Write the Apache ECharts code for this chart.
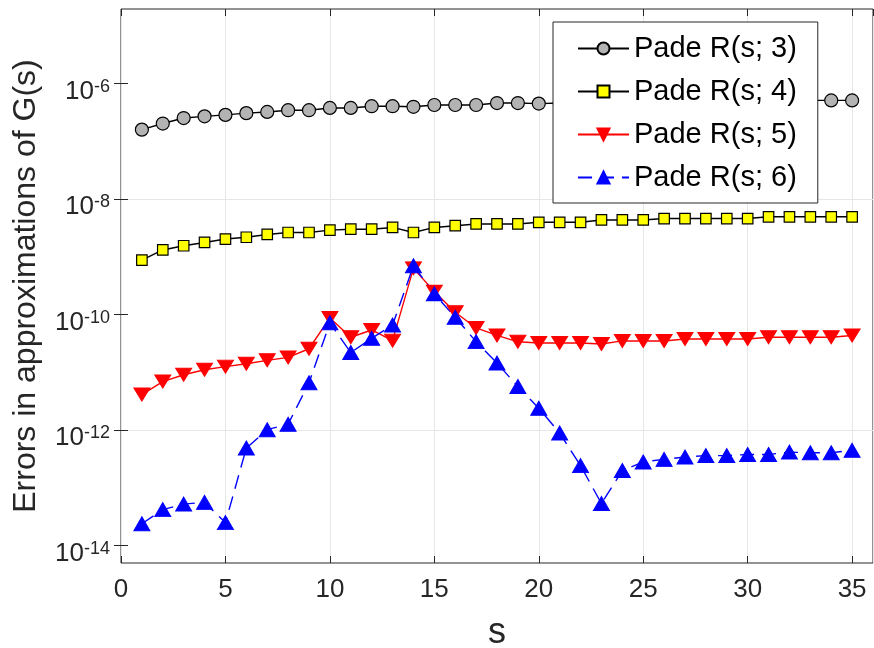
<!DOCTYPE html>
<html>
<head>
<meta charset="utf-8">
<script src="https://cdn.jsdelivr.net/npm/echarts@6/dist/echarts.min.js"></script>
<style>
html,body{margin:0;padding:0;background:#fff;}
#chart{width:874px;height:648px;}
</style>
</head>
<body>
<div id="chart"></div>
<script>
// ---- data ----
var sValues = [1,2,3,4,5,6,7,8,9,10,11,12,13,14,15,16,17,18,19,20,21,22,23,24,25,26,27,28,29,30,31,32,33,34,35];
var seriesNames = ['Pade R(s; 3)', 'Pade R(s; 4)', 'Pade R(s; 5)', 'Pade R(s; 6)'];
var errR3 = [1.60e-7,2.04e-7,2.54e-7,2.72e-7,2.88e-7,3.09e-7,3.24e-7,3.47e-7,3.47e-7,3.80e-7,
             3.80e-7,4.07e-7,4.07e-7,3.98e-7,4.27e-7,4.27e-7,4.27e-7,4.62e-7,4.62e-7,4.52e-7,
             4.62e-7,4.68e-7,4.79e-7,4.79e-7,4.90e-7,4.90e-7,4.90e-7,5.01e-7,5.01e-7,5.01e-7,
             5.01e-7,5.13e-7,5.13e-7,5.13e-7,5.13e-7];
var errR4 = [8.81e-10,1.32e-9,1.56e-9,1.78e-9,2.04e-9,2.19e-9,2.45e-9,2.65e-9,2.65e-9,2.91e-9,
             3.02e-9,3.02e-9,3.24e-9,2.65e-9,3.24e-9,3.47e-9,3.72e-9,3.72e-9,3.72e-9,3.98e-9,
             3.98e-9,3.98e-9,4.37e-9,4.37e-9,4.37e-9,4.62e-9,4.62e-9,4.62e-9,4.62e-9,4.62e-9,
             4.95e-9,4.95e-9,4.95e-9,4.95e-9,4.95e-9];
var errR5 = [4.14e-12,6.95e-12,9.12e-12,1.11e-11,1.26e-11,1.41e-11,1.62e-11,1.82e-11,2.57e-11,8.77e-11,
             4.07e-11,5.43e-11,3.55e-11,6.34e-10,2.51e-10,1.10e-10,5.89e-11,4.37e-11,3.39e-11,3.24e-11,
             3.24e-11,3.24e-11,3.11e-11,3.51e-11,3.51e-11,3.51e-11,3.80e-11,3.80e-11,3.80e-11,3.80e-11,
             4.07e-11,4.07e-11,4.07e-11,4.07e-11,4.37e-11];
var errR6 = [2.40e-14,4.21e-14,5.25e-14,5.62e-14,2.51e-14,4.90e-13,1.02e-12,1.27e-12,6.61e-12,7.24e-11,
             2.21e-11,3.89e-11,6.61e-11,7.03e-10,2.29e-10,9.02e-11,3.41e-11,1.45e-11,5.69e-12,2.40e-12,
             8.91e-13,2.43e-13,5.37e-14,2.00e-13,2.82e-13,3.12e-13,3.43e-13,3.63e-13,3.63e-13,3.80e-13,
             3.80e-13,4.17e-13,4.07e-13,4.07e-13,4.47e-13];
var xTicks = [0,5,10,15,20,25,30,35];
var yTickValues = [1e-14,1e-12,1e-10,1e-8,1e-6];
var xLabel = 's';
var yLabel = 'Errors in approximations of G(s)';

// ---- chart ----
var FONT = 'Liberation Sans, Arial, Helvetica, sans-serif';
var AX = '#262626';
var GRIDC = '#e6e6e6';
function pairs(vals){ return sValues.map(function(s,i){ return [s, vals[i]]; }); }
var yMin = Math.pow(10, -14.3), yMax = Math.pow(10, -4.707);

function yFmt(v){
  var e = Math.log10(v); var r = Math.round(e);
  if (Math.abs(e - r) > 1e-6 || r % 2 !== 0) return '';
  return '{b|10}{s|' + r + '}';
}

var chart = echarts.init(document.getElementById('chart'), null, {renderer:'canvas'});
chart.setOption({
  animation:false,
  backgroundColor:'#fff',
  textStyle:{fontFamily:FONT},
  grid:{left:121, right:1, top:9, bottom:85, show:true, borderColor:AX, borderWidth:1, backgroundColor:'transparent', outerBoundsMode:'none', containLabel:false},
  xAxis:[{
    type:'value', min:0, max:36, interval:5, position:'bottom',
    axisLine:{show:false},
    axisTick:{show:true, inside:true, length:7, lineStyle:{color:AX}},
    axisLabel:{fontSize:26, color:AX, margin:14, fontFamily:FONT, showMaxLabel:false,
      formatter:function(v){ return xTicks.indexOf(v) >= 0 ? String(v) : ''; }},
    splitLine:{show:true, lineStyle:{color:GRIDC, width:1}},
    name:xLabel, nameLocation:'middle', nameGap:52,
    nameTextStyle:{fontSize:36, color:AX, fontFamily:FONT}
  },{
    type:'value', min:0, max:36, interval:5, position:'top',
    axisLine:{show:false},
    axisTick:{show:true, inside:true, length:7, lineStyle:{color:AX}},
    axisLabel:{show:false}, splitLine:{show:false}
  }],
  yAxis:[{
    type:'log', logBase:10, min:yMin, max:yMax, position:'left',
    axisLine:{show:false},
    axisTick:{show:true, inside:true, length:7, lineStyle:{color:AX}, customValues:yTickValues},
    axisLabel:{margin:11, color:AX, fontFamily:FONT, formatter:yFmt,
      rich:{
        b:{fontSize:26, color:AX, fontFamily:FONT, lineHeight:30, padding:[10,0,0,0], verticalAlign:'top'},
        s:{fontSize:18, color:AX, fontFamily:FONT, lineHeight:18, padding:[9,0,0,0], verticalAlign:'top'}
      }},
    splitLine:{show:true, lineStyle:{color:['rgba(0,0,0,0)', GRIDC], width:1}},
    name:yLabel, nameLocation:'middle', nameGap:79,
    nameTextStyle:{fontSize:32, color:AX, fontFamily:FONT}
  },{
    type:'log', logBase:10, min:yMin, max:yMax, position:'right',
    axisLine:{show:false},
    axisTick:{show:true, inside:true, length:7, lineStyle:{color:AX}, customValues:yTickValues},
    axisLabel:{show:false}, splitLine:{show:false}
  }],
  legend:{
    orient:'vertical', left:553, top:22, padding:[12,21,11,24],
    itemWidth:51, itemHeight:15, itemGap:14,
    backgroundColor:'#fff', borderColor:AX, borderWidth:1, borderRadius:0,
    textStyle:{fontSize:29, color:'#000', fontFamily:FONT},
    data:seriesNames
  },
  series:[{
    name:seriesNames[0], type:'line', data:pairs(errR3),
    symbol:'circle', symbolSize:13,
    lineStyle:{color:'#000', width:1.4},
    itemStyle:{color:'#b3b3b3', borderColor:'#000', borderWidth:1.2},
    emphasis:{disabled:true}
  },{
    name:seriesNames[1], type:'line', data:pairs(errR4),
    symbol:'rect', symbolSize:10.5,
    lineStyle:{color:'#000', width:1.4},
    itemStyle:{color:'#ffff00', borderColor:'#000', borderWidth:1.2},
    emphasis:{disabled:true}
  },{
    name:seriesNames[2], type:'line', data:pairs(errR5),
    symbol:'triangle', symbolRotate:180, symbolSize:[16,13],
    lineStyle:{color:'#ff0000', width:1.4},
    itemStyle:{color:'#ff0000', borderColor:'#ff0000', borderWidth:1},
    emphasis:{disabled:true}
  },{
    name:seriesNames[3], type:'line', data:pairs(errR6),
    symbol:'triangle', symbolSize:[16,14],
    lineStyle:{color:'#0000ff', width:1.4, type:[14,8]},
    itemStyle:{color:'#0000ff', borderColor:'#0000ff', borderWidth:1},
    emphasis:{disabled:true}
  }]
});
</script>
</body>
</html>
